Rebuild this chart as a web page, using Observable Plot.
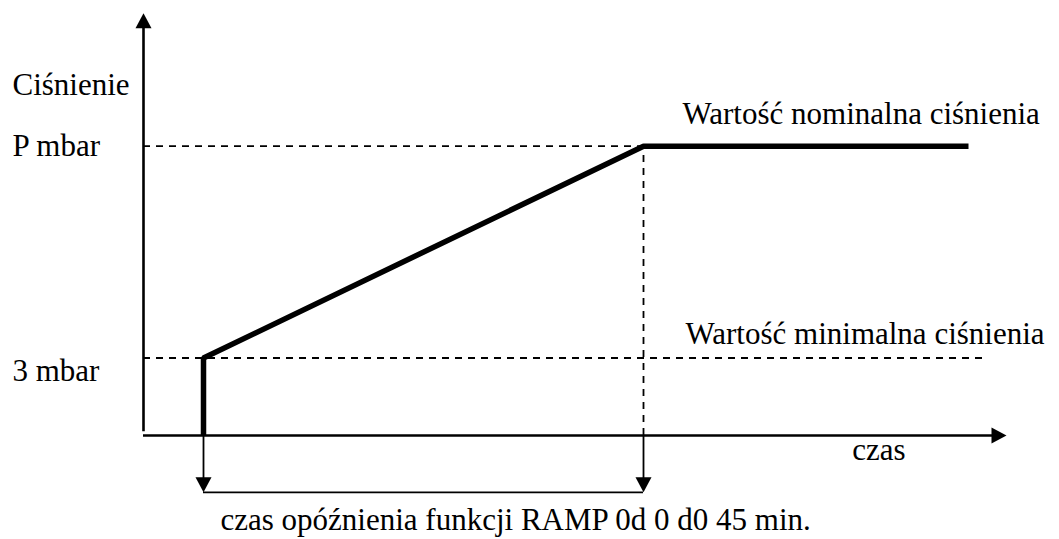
<!DOCTYPE html>
<html>
<head>
<meta charset="utf-8">
<script src="https://cdn.jsdelivr.net/npm/d3@7"></script>
<script src="https://cdn.jsdelivr.net/npm/@observablehq/plot@0.6"></script>
<style>
  html, body { margin: 0; padding: 0; background: #fff; }
</style>
</head>
<body>
<div id="chart"></div>
<script>
// ---- data (schematic units) ----
const levelLabels = ["3 mbar", "P mbar"];
const levels = [3, 11.2];                    // minimal / nominal pressure (mbar)
const curveTime = [6, 6, 50, 82.5];          // time units
const curvePressure = [0, 3, 11.2, 11.2];    // mbar
const axisTop = 16.35;                       // end of pressure axis arrow
const axisRight = 86.3;                      // end of time axis arrow
const minLineEnd = 84.4;                     // end of the dashed minimum line
const bracketLevel = -2.2;                   // delay bracket below the time axis
const yTitle = "Ciśnienie";
const xTitle = "czas";
const annotations = ["Wartość minimalna ciśnienia", "Wartość nominalna ciśnienia"];
const delayLabel = "czas opóźnienia funkcji RAMP 0d 0 d0 45 min.";

const rampStart = curveTime[1], rampEnd = curveTime[2];
const minLevel = levels[0], nomLevel = levels[1];
const curve = curveTime.map((t, i) => ({t, p: curvePressure[i]}));

// filled arrowhead, tip at the origin, body below
const arrowHead = {
  draw(ctx) {
    ctx.moveTo(0, 0);
    ctx.lineTo(-8, 15);
    ctx.lineTo(8, 15);
    ctx.closePath();
  }
};

const dash = "7,6";
const font = 31;

const chart = Plot.plot({
  width: 1059,
  height: 539,
  margin: 0,
  x: {domain: [0, 100], range: [143, 1143], axis: null},
  y: {domain: [0, 3], range: [435, 357.5], axis: null},
  style: {fontFamily: "'Liberation Serif', 'Times New Roman', serif", fontSize: font + "px", background: "#fff", color: "#000"},
  marks: [
    // dashed guides
    Plot.ruleY([nomLevel], {x1: 0, x2: rampEnd, stroke: "#000", strokeWidth: 1.8, strokeDasharray: dash}),
    Plot.ruleY([minLevel], {x1: 0, x2: minLineEnd, stroke: "#000", strokeWidth: 1.8, strokeDasharray: dash}),
    Plot.ruleX([rampEnd], {y1: 0, y2: nomLevel, stroke: "#000", strokeWidth: 1.8, strokeDasharray: dash}),
    // axes
    Plot.ruleX([0], {y1: 0.15, y2: axisTop - 0.3, stroke: "#000", strokeWidth: 2.6}),
    Plot.ruleY([0], {x1: 0, x2: axisRight - 0.5, stroke: "#000", strokeWidth: 2.6}),
    Plot.dot([{x: 0, y: axisTop}], {x: "x", y: "y", symbol: arrowHead, fill: "#000", stroke: "none", rotate: 0}),
    Plot.dot([{x: axisRight, y: 0}], {x: "x", y: "y", symbol: arrowHead, fill: "#000", stroke: "none", rotate: 90}),
    // delay bracket
    Plot.ruleX([rampStart, rampEnd], {y1: 0, y2: bracketLevel + 0.3, stroke: "#000", strokeWidth: 1.8}),
    Plot.ruleY([bracketLevel], {x1: rampStart, x2: rampEnd, stroke: "#000", strokeWidth: 1.8}),
    Plot.dot([rampStart, rampEnd], {x: d => d, y: () => bracketLevel, symbol: arrowHead, fill: "#000", stroke: "none", rotate: 180}),
    // pressure curve
    Plot.line(curve, {x: "t", y: "p", stroke: "#000", strokeWidth: 5.5, strokeLinejoin: "miter", strokeLinecap: "butt"}),
    // texts
    Plot.text([yTitle], {text: d => d, frameAnchor: "left", y: () => nomLevel, dx: 12, dy: -61, textAnchor: "start", fill: "#000"}),
    Plot.text([levelLabels[1]], {text: d => d, frameAnchor: "left", y: () => nomLevel, dx: 12, textAnchor: "start", fill: "#000"}),
    Plot.text([levelLabels[0]], {text: d => d, frameAnchor: "left", y: () => minLevel, dx: 12, dy: 13, textAnchor: "start", fill: "#000"}),
    Plot.text([annotations[1]], {text: d => d, x: () => rampEnd, y: () => nomLevel, dx: 39, dy: -32, textAnchor: "start", fill: "#000"}),
    Plot.text([annotations[0]], {text: d => d, x: () => rampEnd, y: () => minLevel, dx: 42, dy: -24, textAnchor: "start", fill: "#000"}),
    Plot.text([xTitle], {text: d => d, x: () => axisRight, y: () => 0, dx: -101, dy: 15, textAnchor: "end", fill: "#000"}),
    Plot.text([delayLabel], {text: d => d, x: () => rampStart, y: () => bracketLevel, dx: 17, dy: 28, textAnchor: "start", fill: "#000"})
  ]
});
document.getElementById("chart").appendChild(chart);
</script>
</body>
</html>
